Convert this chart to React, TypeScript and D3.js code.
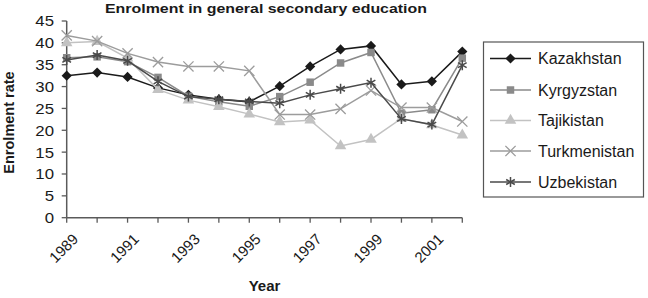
import * as d3 from 'd3'

const years = [1989, 1990, 1991, 1992, 1993, 1994, 1995, 1996, 1997, 1998, 1999, 2000, 2001, 2002]
const yearLabels = [1989, 1991, 1993, 1995, 1997, 1999, 2001]
const yTicks = [0, 5, 10, 15, 20, 25, 30, 35, 40, 45]

const kazakhstan = [32.5, 33.2, 32.2, 29.7, 28.1, 27.1, 26.5, 30.1, 34.6, 38.5, 39.3, 30.5, 31.2, 38.0]
const kyrgyzstan = [36.6, 36.8, 35.7, 32.1, 27.8, 26.5, 25.5, 27.7, 31.0, 35.4, 37.8, 23.9, 24.7, 36.5]
const tajikistan = [40.0, 40.3, 36.5, 29.3, 26.9, 25.4, 23.7, 21.9, 22.3, 16.4, 17.9, 22.7, 21.2, 18.9]
const turkmenistan = [41.7, 40.4, 37.6, 35.6, 34.6, 34.6, 33.6, 23.6, 23.6, 24.9, 29.1, 25.2, 25.2, 22.0]
const uzbekistan = [36.1, 37.2, 35.9, 31.2, 27.7, 27.1, 26.6, 26.2, 28.1, 29.5, 30.9, 22.6, 21.3, 34.9]

type Marker = 'diamond' | 'square' | 'triangle' | 'x' | 'asterisk'

const series: { name: string; values: number[]; color: string; marker: Marker }[] = [
  { name: 'Kazakhstan', values: kazakhstan, color: '#1a1a1a', marker: 'diamond' },
  { name: 'Kyrgyzstan', values: kyrgyzstan, color: '#8a8a8a', marker: 'square' },
  { name: 'Tajikistan', values: tajikistan, color: '#c2c2c2', marker: 'triangle' },
  { name: 'Turkmenistan', values: turkmenistan, color: '#9c9c9c', marker: 'x' },
  { name: 'Uzbekistan', values: uzbekistan, color: '#4a4a4a', marker: 'asterisk' },
]

const font = 'Arial, "Liberation Sans", Helvetica, sans-serif'
const axisColor = '#5a5a5a'

function MarkerShape({ type, x, y, color }: { type: Marker; x: number; y: number; color: string }) {
  if (type === 'diamond') {
    const p = d3.symbol(d3.symbolSquare, 52)()
    return <path d={p || ''} transform={`translate(${x},${y}) rotate(45)`} fill={color} />
  }
  if (type === 'square') {
    const p = d3.symbol(d3.symbolSquare, 56)()
    return <path d={p || ''} transform={`translate(${x},${y})`} fill={color} />
  }
  if (type === 'triangle') {
    const p = d3.symbol(d3.symbolTriangle, 58)()
    return <path d={p || ''} transform={`translate(${x},${y})`} fill={color} />
  }
  if (type === 'x') {
    const p = d3.symbol(d3.symbolX, 70)()
    return <path d={p || ''} transform={`translate(${x},${y})`} fill="none" stroke={color} strokeWidth={1.3} />
  }
  const p = d3.symbol(d3.symbolAsterisk, 70)()
  return <path d={p || ''} transform={`translate(${x},${y})`} fill="none" stroke={color} strokeWidth={1.5} />
}

export default function App() {
  const width = 648
  const height = 298

  const x = d3.scaleLinear().domain([1989, 2002]).range([66.7, 462.3])
  const y = d3.scaleLinear().domain([0, 45]).range([217.7, 21])

  const line = d3.line<number>()
    .x((_, i) => x(years[i]))
    .y(d => y(d))

  const legendX = 483.5
  const legendY = 42
  const legendRows = [58.5, 90, 120.5, 151, 182]

  return (
    <svg width={width} height={height} style={{ position: 'absolute', left: 0, top: 0, background: '#fff' }}>
      <text x={266} y={12.5} textAnchor="middle" fontFamily={font} fontWeight="bold" fontSize={13.5}
        textLength={322} lengthAdjust="spacingAndGlyphs" fill="#1a1a1a">
        Enrolment in general secondary education
      </text>

      {/* y axis */}
      <line x1={x(1989)} x2={x(1989)} y1={y(45)} y2={y(0)} stroke={axisColor} strokeWidth={1.5} />
      {yTicks.map(t => (
        <g key={t}>
          <line x1={x(1989) - 5} x2={x(1989)} y1={y(t)} y2={y(t)} stroke={axisColor} strokeWidth={1.3} />
          <text x={54} y={y(t)} dy="0.36em" textAnchor="end" fontFamily={font} fontSize={15}
            transform={`translate(54,0) scale(1.12,1) translate(-54,0)`} fill="#1a1a1a">{t}</text>
        </g>
      ))}

      {/* x axis */}
      <line x1={x(1989)} x2={x(2002)} y1={y(0)} y2={y(0)} stroke={axisColor} strokeWidth={1.5} />
      {years.map(yr => (
        <line key={yr} x1={x(yr)} x2={x(yr)} y1={y(0)} y2={y(0) + 5} stroke={axisColor} strokeWidth={1.3} />
      ))}
      {yearLabels.map(yr => (
        <text key={yr} transform={`translate(${x(yr) + 5},${y(0) + 15}) rotate(-45)`} textAnchor="end"
          dy="0.7em" fontFamily={font} fontSize={15} fill="#1a1a1a">{yr}</text>
      ))}

      <text x={264.5} y={291} textAnchor="middle" fontFamily={font} fontWeight="bold" fontSize={15} fill="#1a1a1a">Year</text>
      <text transform={`translate(13.5,122.5) rotate(-90)`} textAnchor="middle" fontFamily={font} fontWeight="bold"
        fontSize={14.5} fill="#1a1a1a">Enrolment rate</text>

      {/* series */}
      {series.map(s => (
        <g key={s.name}>
          <path d={line(s.values) || ''} fill="none" stroke={s.color} strokeWidth={1.5} />
          {s.values.map((v, i) => (
            <MarkerShape key={i} type={s.marker} x={x(years[i])} y={y(v)} color={s.color} />
          ))}
        </g>
      ))}

      {/* legend */}
      <rect x={legendX} y={legendY} width={160} height={155} fill="#fff" stroke="#555" strokeWidth={1.2} />
      {series.map((s, i) => (
        <g key={s.name}>
          <line x1={490} x2={531} y1={legendRows[i]} y2={legendRows[i]} stroke={s.color} strokeWidth={1.5} />
          <MarkerShape type={s.marker} x={510.5} y={legendRows[i]} color={s.color} />
          <text x={538} y={legendRows[i]} dy="0.36em" fontFamily={font} fontSize={16} fill="#1a1a1a">{s.name}</text>
        </g>
      ))}
    </svg>
  )
}
